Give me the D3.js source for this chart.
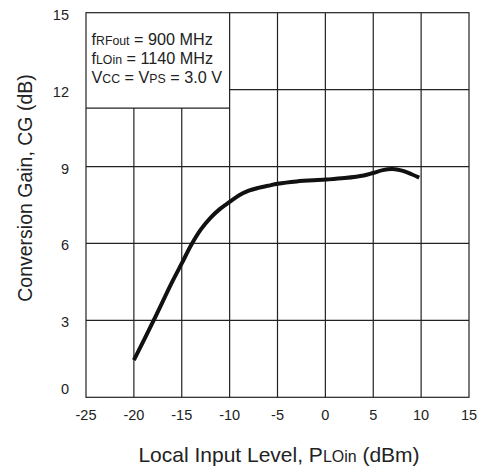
<!DOCTYPE html>
<html><head><meta charset="utf-8">
<script src="https://cdn.jsdelivr.net/npm/d3@7"></script>
<style>body{margin:0;background:#fff}svg{display:block}text{font-family:"Liberation Sans",Arial,Helvetica,sans-serif;fill:#222}</style>
</head><body><svg id="c" width="478" height="475"></svg>
<script>
const lvl  = [-20, -18, -16, -15, -14, -13, -12, -11, -10, -9, -8, -7, -6, -5, -3, 0, 2, 4, 5, 6, 7, 8, 9, 9.8];
const gain = [1.45, 2.95, 4.5, 5.22, 5.95, 6.55, 7.0, 7.35, 7.62, 7.88, 8.06, 8.17, 8.25, 8.33, 8.42, 8.49, 8.55, 8.65, 8.75, 8.86, 8.9, 8.84, 8.7, 8.57];
const xTicks = [-25, -20, -15, -10, -5, 0, 5, 10, 15];
const yTicks = [0, 3, 6, 9, 12, 15];
const legendLines = [["f","RFout"," = 900 MHz"],["f","LOin"," = 1140 MHz"],["V","CC"," = V","PS"," = 3.0 V"]];

const svg = d3.select("#c");
const x = d3.scaleLinear().domain([-25, 15]).range([86, 469]);
const y = d3.scaleLinear().domain([0, 15]).range([397.3, 12.7]);
const ink = "#222";
const g = svg.append("g");
const boxX = -10, boxY = 11.28;

xTicks.forEach(v => {
  const top = (v < boxX) ? y(boxY) : y(15);
  if (v === -25 || v === 15) return;
  g.append("line").attr("x1", x(v)).attr("x2", x(v)).attr("y1", top).attr("y2", y(0))
    .attr("stroke", ink).attr("stroke-width", 1.2);
});
yTicks.forEach(v => {
  if (v === 0 || v === 15) return;
  const left = (v > boxY) ? x(boxX) : x(-25);
  g.append("line").attr("x1", left).attr("x2", x(15)).attr("y1", y(v)).attr("y2", y(v))
    .attr("stroke", ink).attr("stroke-width", 1.2);
});
g.append("rect").attr("x", x(-25)).attr("y", y(15)).attr("width", x(15) - x(-25)).attr("height", y(0) - y(15))
  .attr("fill", "none").attr("stroke", ink).attr("stroke-width", 1.2);
g.append("line").attr("x1", x(-25)).attr("x2", x(boxX)).attr("y1", y(boxY)).attr("y2", y(boxY))
  .attr("stroke", ink).attr("stroke-width", 1.2);

g.selectAll(".xt").data(xTicks).enter().append("text")
  .attr("x", d => x(d)).attr("y", 419.5).attr("text-anchor", "middle").attr("font-size", 14.5)
  .text(d => d);
g.selectAll(".yt").data(yTicks).enter().append("text")
  .attr("x", 69).attr("y", d => y(d) + (d === 0 ? -3 : 7)).attr("text-anchor", "end").attr("font-size", 14.5)
  .text(d => d);

legendLines.forEach((parts, i) => {
  const t = g.append("text").attr("x", 91.5).attr("y", 45 + i * 19.2).attr("font-size", 16.2);
  parts.forEach((p, j) => {
    t.append("tspan").attr("font-size", j % 2 === 1 ? "0.76em" : "1em").text(p);
  });
});

const xt = g.append("text").attr("x", 279).attr("y", 462).attr("text-anchor", "middle").attr("font-size", 21);
xt.append("tspan").text("Local Input Level, P");
xt.append("tspan").attr("font-size", "0.76em").text("LOin");
xt.append("tspan").text(" (dBm)");

g.append("text").attr("transform", "translate(32,188) rotate(-90)").attr("text-anchor", "middle").attr("font-size", 19.5)
  .text("Conversion Gain, CG (dB)");

const pts = lvl.map((v, i) => [v, gain[i]]);
g.append("path").datum(pts)
  .attr("d", d3.line().x(d => x(d[0])).y(d => y(d[1])).curve(d3.curveCatmullRom.alpha(0.5)))
  .attr("fill", "none").attr("stroke", "#111").attr("stroke-width", 4);
</script></body></html>
